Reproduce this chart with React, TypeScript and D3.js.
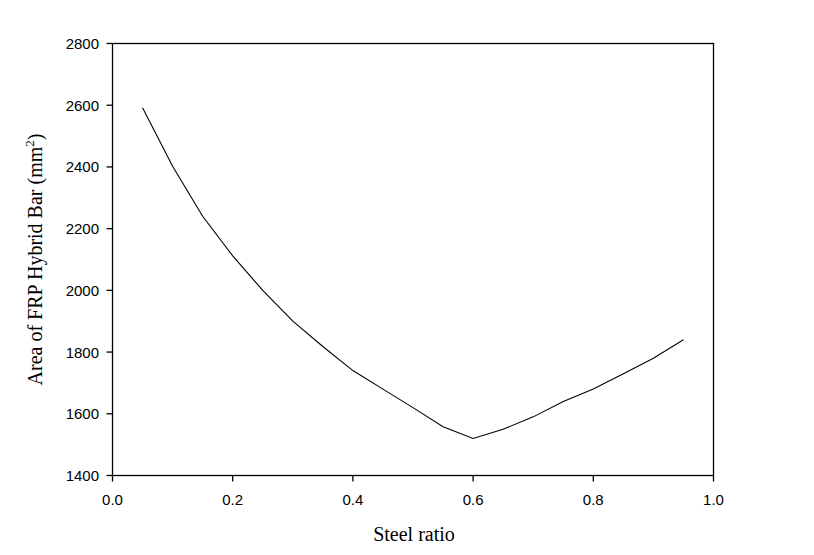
import React from "react";
import * as d3 from "d3";

const steelRatio = [0.05, 0.1, 0.15, 0.2, 0.25, 0.3, 0.35, 0.4, 0.45, 0.5, 0.55, 0.6, 0.65, 0.7, 0.75, 0.8, 0.85, 0.9, 0.95];
const frpArea = [2592, 2402, 2240, 2112, 2000, 1900, 1818, 1740, 1680, 1620, 1558, 1520, 1550, 1590, 1640, 1680, 1730, 1780, 1840];
const xTicks = [0, 0.2, 0.4, 0.6, 0.8, 1.0];
const yTicks = [1400, 1600, 1800, 2000, 2200, 2400, 2600, 2800];

export default function App() {
  const W = 814, H = 555;
  const left = 112.5, right = 713.5, top = 43.5, bottom = 475.5;
  const x = d3.scaleLinear().domain([0, 1]).range([left, right]);
  const y = d3.scaleLinear().domain([1400, 2800]).range([bottom, top]);
  const line = d3.line<number>().x((_, i) => x(steelRatio[i])).y((d) => y(d));
  const sans = "'Liberation Sans', Arial, sans-serif";
  const serif = "'Liberation Serif', 'Times New Roman', serif";
  return (
    <svg width={W} height={H} style={{ position: "absolute", left: 0, top: 0, background: "#fff" }}>
      <rect x={0} y={0} width={W} height={H} fill="#fff" />
      <rect x={left} y={top} width={right - left} height={bottom - top} fill="none" stroke="#000" strokeWidth={1.3} />
      {xTicks.map((t) => (
        <g key={"x" + t}>
          <line x1={x(t)} x2={x(t)} y1={bottom} y2={bottom + 6} stroke="#000" strokeWidth={1.3} />
          <text x={x(t)} y={505} textAnchor="middle" fontFamily={sans} fontSize={15} fill="#000">
            {t.toFixed(1)}
          </text>
        </g>
      ))}
      {yTicks.map((t) => (
        <g key={"y" + t}>
          <line x1={left - 6} x2={left} y1={y(t)} y2={y(t)} stroke="#000" strokeWidth={1.3} />
          <text x={99} y={y(t) + 5.5} textAnchor="end" fontFamily={sans} fontSize={15} fill="#000">
            {t}
          </text>
        </g>
      ))}
      <path d={line(frpArea) || ""} fill="none" stroke="#000" strokeWidth={1.1} />
      <text x={(left + right) / 2 + 1} y={541} textAnchor="middle" fontFamily={serif} fontSize={20} fill="#000">
        Steel ratio
      </text>
      <text
        transform={`translate(42, ${(top + bottom) / 2}) rotate(-90)`}
        textAnchor="middle"
        fontFamily={serif}
        fontSize={20}
        fill="#000"
      >
        Area of FRP Hybrid Bar (mm
        <tspan fontSize={13} dy={-8}>2</tspan>
        <tspan dy={8}>)</tspan>
      </text>
    </svg>
  );
}
